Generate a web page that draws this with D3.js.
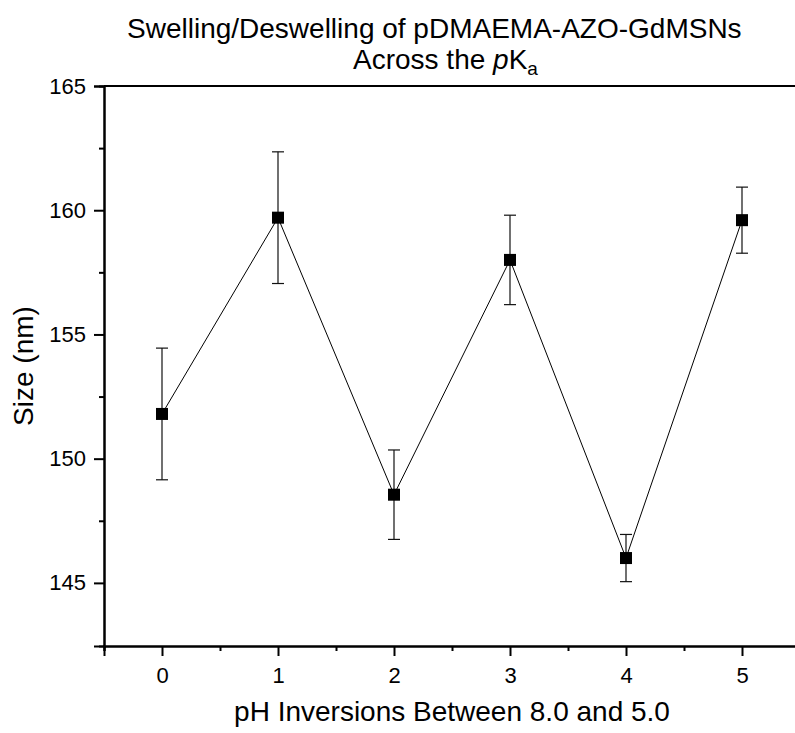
<!DOCTYPE html>
<html>
<head>
<meta charset="utf-8">
<script src="https://cdn.jsdelivr.net/npm/d3@7"></script>
<style>
  body { margin: 0; background: #fff; }
  svg { display: block; font-family: "Liberation Sans", Arial, sans-serif; }
</style>
</head>
<body>
<div id="chart"></div>
<script>
// data
const cycles = [0, 1, 2, 3, 4, 5];
const sizes = [151.8, 159.7, 148.55, 158.0, 146.0, 159.6];
const errors = [2.65, 2.65, 1.8, 1.8, 0.95, 1.33];
const yTicks = [145, 150, 155, 160, 165];

const W = 795, H = 733;
const margin = {top: 86, right: -5, bottom: 87, left: 104},
  width = W - margin.left - margin.right,
  height = H - margin.top - margin.bottom;

const svg = d3.select("#chart")
  .append("svg")
  .attr("width", W)
  .attr("height", H);

const g = svg.append("g")
  .attr("transform", `translate(${margin.left}, ${margin.top})`);

const x = d3.scaleLinear().domain([-0.5, 5.5]).range([0, width]);
const y = d3.scaleLinear().domain([142.46, 165]).range([height, 0]);

// frame top line
g.append("line")
  .attr("x1", 0).attr("x2", width)
  .attr("y1", 0).attr("y2", 0)
  .attr("stroke", "#000").attr("stroke-width", 2);

// axes, major + minor ticks
const xAxis = d3.axisBottom(x).tickValues(cycles).tickSize(10).tickPadding(11).tickFormat(d3.format("d"));
const xMinor = d3.axisBottom(x).tickValues([-0.5, 0.5, 1.5, 2.5, 3.5, 4.5, 5.5]).tickSize(5).tickFormat("");
const yAxis = d3.axisLeft(y).tickValues(yTicks).tickSize(10).tickPadding(8);
const yMinor = d3.axisLeft(y).tickValues([147.5, 152.5, 157.5, 162.5]).tickSize(5).tickFormat("");

function styleAxis(sel) {
  sel.attr("font-size", 22).attr("font-family", "'Liberation Sans', Arial, sans-serif");
  sel.select(".domain").attr("stroke-width", 2);
  sel.selectAll(".tick line").attr("stroke-width", 2);
  sel.selectAll("text").attr("fill", "#000");
}

g.append("g").attr("transform", `translate(0, ${height})`).call(xMinor).call(styleAxis);
g.append("g").attr("transform", `translate(0, ${height})`).call(xAxis).call(styleAxis);
g.append("g").call(yMinor).call(styleAxis);
g.append("g").call(yAxis).call(styleAxis);

// connecting line
const line = d3.line()
  .x((d, i) => x(cycles[i]))
  .y(d => y(d));

g.append("path")
  .datum(sizes)
  .attr("fill", "none")
  .attr("stroke", "#000")
  .attr("stroke-width", 1)
  .attr("d", line);

// error bars
const bars = g.append("g")
  .selectAll("g")
  .data(sizes)
  .join("g")
  .attr("stroke", "#111")
  .attr("stroke-width", 1.2);

bars.append("line")
  .attr("x1", (d, i) => x(cycles[i])).attr("x2", (d, i) => x(cycles[i]))
  .attr("y1", (d, i) => y(d - errors[i])).attr("y2", (d, i) => y(d + errors[i]));
bars.append("line")
  .attr("x1", (d, i) => x(cycles[i]) - 6).attr("x2", (d, i) => x(cycles[i]) + 6)
  .attr("y1", (d, i) => y(d + errors[i])).attr("y2", (d, i) => y(d + errors[i]));
bars.append("line")
  .attr("x1", (d, i) => x(cycles[i]) - 6).attr("x2", (d, i) => x(cycles[i]) + 6)
  .attr("y1", (d, i) => y(d - errors[i])).attr("y2", (d, i) => y(d - errors[i]));

// square markers
g.append("g")
  .selectAll("rect")
  .data(sizes)
  .join("rect")
  .attr("x", (d, i) => x(cycles[i]) - 6)
  .attr("y", d => y(d) - 6)
  .attr("width", 12)
  .attr("height", 12)
  .attr("fill", "#000");

// titles
svg.append("text")
  .attr("x", 127).attr("y", 38)
  .attr("font-size", 28)
  .text("Swelling/Deswelling of pDMAEMA-AZO-GdMSNs");

const t2 = svg.append("text")
  .attr("x", 353).attr("y", 69)
  .attr("font-size", 28);
t2.append("tspan").text("Across the ");
t2.append("tspan").attr("font-style", "italic").text("p");
t2.append("tspan").text("K");
t2.append("tspan").attr("font-size", 19).attr("dy", 6).text("a");

svg.append("text")
  .attr("x", 452).attr("y", 721)
  .attr("text-anchor", "middle")
  .attr("font-size", 28)
  .text("pH Inversions Between 8.0 and 5.0");

svg.append("text")
  .attr("transform", "translate(33, 366) rotate(-90)")
  .attr("text-anchor", "middle")
  .attr("font-size", 28)
  .text("Size (nm)");
</script>
</body>
</html>
